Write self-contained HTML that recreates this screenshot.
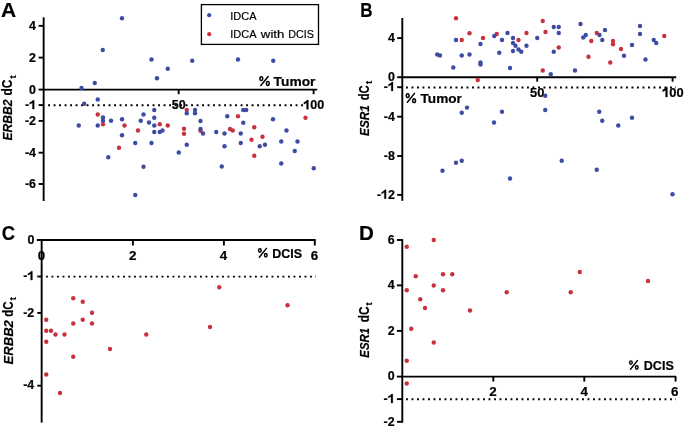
<!DOCTYPE html>
<html><head><meta charset="utf-8"><title>Figure</title>
<style>
html,body{margin:0;padding:0;background:#fff;}
body{width:685px;height:428px;overflow:hidden;}
svg{display:block;font-family:"Liberation Sans",sans-serif;filter:blur(0.3px);}
text{stroke:#000;stroke-width:0.2px;stroke-linejoin:round;}
</style></head>
<body>
<svg width="685" height="428" viewBox="0 0 685 428">
<rect width="685" height="428" fill="#fff"/>
<text transform="translate(0.9,16.8) scale(1.0,1)" font-size="21" font-weight="bold">A</text>
<line x1="43.65" y1="17.3" x2="43.65" y2="201.0" stroke="#000" stroke-width="1.9" />
<line x1="38.6" y1="25.85" x2="43.65" y2="25.85" stroke="#000" stroke-width="1.9" />
<text transform="translate(29.11,29.85) scale(1.0,1)" font-size="12.4" font-weight="bold">4</text>
<line x1="38.6" y1="57.6" x2="43.65" y2="57.6" stroke="#000" stroke-width="1.9" />
<text transform="translate(29.11,61.6) scale(1.0,1)" font-size="12.4" font-weight="bold">2</text>
<line x1="38.6" y1="89.6" x2="43.65" y2="89.6" stroke="#000" stroke-width="1.9" />
<text transform="translate(29.11,93.6) scale(1.0,1)" font-size="12.4" font-weight="bold">0</text>
<line x1="38.6" y1="105.1" x2="43.65" y2="105.1" stroke="#000" stroke-width="1.9" />
<text transform="translate(24.98,109.1) scale(1.0,1)" font-size="12.4" font-weight="bold">-</text>
<path transform="translate(29.11,109.1) scale(0.01240,-0.01240)" d="M410,0 L268,0 L268,513 C216,465 140,420 48,392 L48,527 C98,543 152,572 210,617 C266,661 302,696 318,716 L410,716 Z" fill="#000" stroke="#000" stroke-width="24.2" stroke-linejoin="round"/>
<line x1="38.6" y1="120.9" x2="43.65" y2="120.9" stroke="#000" stroke-width="1.9" />
<text transform="translate(24.98,124.9) scale(1.0,1)" font-size="12.4" font-weight="bold">-</text>
<text transform="translate(29.11,124.9) scale(1.0,1)" font-size="12.4" font-weight="bold">2</text>
<line x1="38.6" y1="152.7" x2="43.65" y2="152.7" stroke="#000" stroke-width="1.9" />
<text transform="translate(24.98,156.7) scale(1.0,1)" font-size="12.4" font-weight="bold">-</text>
<text transform="translate(29.11,156.7) scale(1.0,1)" font-size="12.4" font-weight="bold">4</text>
<line x1="38.6" y1="184.0" x2="43.65" y2="184.0" stroke="#000" stroke-width="1.9" />
<text transform="translate(24.98,188.0) scale(1.0,1)" font-size="12.4" font-weight="bold">-</text>
<text transform="translate(29.11,188.0) scale(1.0,1)" font-size="12.4" font-weight="bold">6</text>
<line x1="43.65" y1="89.65" x2="317.3" y2="89.65" stroke="#000" stroke-width="1.9" />
<line x1="178.65" y1="89.65" x2="178.65" y2="94.2" stroke="#000" stroke-width="1.9" />
<line x1="313.6" y1="89.65" x2="313.6" y2="94.2" stroke="#000" stroke-width="1.9" />
<line x1="48.1" y1="105.3" x2="306" y2="105.3" stroke="#000" stroke-width="1.9" stroke-dasharray="1.9 3.6"/>
<text transform="translate(171.73,109.2) scale(0.98,1)" font-size="12.8" font-weight="bold">5</text>
<text transform="translate(178.70,109.2) scale(0.98,1)" font-size="12.8" font-weight="bold">0</text>
<path transform="translate(303.24,109.2) scale(0.01254,-0.01280)" d="M410,0 L268,0 L268,513 C216,465 140,420 48,392 L48,527 C98,543 152,572 210,617 C266,661 302,696 318,716 L410,716 Z" fill="#000" stroke="#000" stroke-width="23.4" stroke-linejoin="round"/>
<text transform="translate(310.21,109.2) scale(0.98,1)" font-size="12.8" font-weight="bold">0</text>
<text transform="translate(317.19,109.2) scale(0.98,1)" font-size="12.8" font-weight="bold">0</text>
<ellipse cx="261.3" cy="78.6" rx="1.4" ry="1.95" fill="none" stroke="#000" stroke-width="1.5"/>
<ellipse cx="267.8" cy="83.5" rx="1.4" ry="1.95" fill="none" stroke="#000" stroke-width="1.5"/>
<line x1="260.8" y1="85.4" x2="268.2" y2="76.5" stroke="#000" stroke-width="1.5" stroke-linecap="round"/>
<text x="273.6" y="85.8" font-size="13.6" text-anchor="start" font-weight="bold" font-style="normal" textLength="41.8" lengthAdjust="spacingAndGlyphs">Tumor</text>
<text transform="translate(12.3,140.6) rotate(-90)" font-size="13.2" font-weight="bold" font-style="italic" textLength="41.10" lengthAdjust="spacingAndGlyphs">ERBB2</text>
<text transform="translate(12.3,95.5) rotate(-90)" font-size="14.2" font-weight="bold" textLength="15.80" lengthAdjust="spacingAndGlyphs">dC</text>
<text transform="translate(15.7,78.5) rotate(-90)" font-size="9.6" font-weight="bold">t</text>
<rect x="201.4" y="4.6" width="117.1" height="39.8" fill="none" stroke="#000" stroke-width="1.3"/>
<circle cx="209.2" cy="15.2" r="2.1" fill="#3d4ba3"/>
<circle cx="209.2" cy="34.2" r="2.1" fill="#c8313f"/>
<text x="230.2" y="19.8" font-size="11.6" text-anchor="start" font-weight="normal" font-style="normal" textLength="26.3" lengthAdjust="spacingAndGlyphs">IDCA</text>
<text x="230.2" y="37.8" font-size="11.6" text-anchor="start" font-weight="normal" font-style="normal" textLength="26.3" lengthAdjust="spacingAndGlyphs">IDCA</text>
<text x="260.8" y="37.8" font-size="11.6" text-anchor="start" font-weight="normal" font-style="normal" textLength="23.6" lengthAdjust="spacingAndGlyphs">with</text>
<text x="288.2" y="37.8" font-size="11.6" text-anchor="start" font-weight="normal" font-style="normal" textLength="25.6" lengthAdjust="spacingAndGlyphs">DCIS</text>
<text transform="translate(360.2,16.7) scale(0.81,1)" font-size="21" font-weight="bold">B</text>
<line x1="402.3" y1="18.0" x2="402.3" y2="200.8" stroke="#000" stroke-width="1.9" />
<line x1="397.2" y1="38.1" x2="402.3" y2="38.1" stroke="#000" stroke-width="1.9" />
<text transform="translate(387.91,41.9) scale(1.0,1)" font-size="12.4" font-weight="bold">4</text>
<line x1="397.2" y1="77.2" x2="402.3" y2="77.2" stroke="#000" stroke-width="1.9" />
<text transform="translate(387.91,81.0) scale(1.0,1)" font-size="12.4" font-weight="bold">0</text>
<line x1="397.2" y1="87.2" x2="402.3" y2="87.2" stroke="#000" stroke-width="1.9" />
<text transform="translate(383.78,91.0) scale(1.0,1)" font-size="12.4" font-weight="bold">-</text>
<path transform="translate(387.91,91.0) scale(0.01240,-0.01240)" d="M410,0 L268,0 L268,513 C216,465 140,420 48,392 L48,527 C98,543 152,572 210,617 C266,661 302,696 318,716 L410,716 Z" fill="#000" stroke="#000" stroke-width="24.2" stroke-linejoin="round"/>
<line x1="397.2" y1="116.7" x2="402.3" y2="116.7" stroke="#000" stroke-width="1.9" />
<text transform="translate(383.78,120.5) scale(1.0,1)" font-size="12.4" font-weight="bold">-</text>
<text transform="translate(387.91,120.5) scale(1.0,1)" font-size="12.4" font-weight="bold">4</text>
<line x1="397.2" y1="156.0" x2="402.3" y2="156.0" stroke="#000" stroke-width="1.9" />
<text transform="translate(383.78,159.8) scale(1.0,1)" font-size="12.4" font-weight="bold">-</text>
<text transform="translate(387.91,159.8) scale(1.0,1)" font-size="12.4" font-weight="bold">8</text>
<line x1="397.2" y1="194.9" x2="402.3" y2="194.9" stroke="#000" stroke-width="1.9" />
<text transform="translate(376.88,198.70000000000002) scale(1.0,1)" font-size="12.4" font-weight="bold">-</text>
<path transform="translate(381.01,198.70000000000002) scale(0.01240,-0.01240)" d="M410,0 L268,0 L268,513 C216,465 140,420 48,392 L48,527 C98,543 152,572 210,617 C266,661 302,696 318,716 L410,716 Z" fill="#000" stroke="#000" stroke-width="24.2" stroke-linejoin="round"/>
<text transform="translate(387.91,198.70000000000002) scale(1.0,1)" font-size="12.4" font-weight="bold">2</text>
<line x1="402.3" y1="77.2" x2="676.2" y2="77.2" stroke="#000" stroke-width="1.9" />
<line x1="537.2" y1="77.2" x2="537.2" y2="81.7" stroke="#000" stroke-width="1.9" />
<line x1="672.6" y1="77.2" x2="672.6" y2="81.7" stroke="#000" stroke-width="1.9" />
<line x1="406.0" y1="87.5" x2="676" y2="87.5" stroke="#000" stroke-width="1.9" stroke-dasharray="1.9 3.6"/>
<text transform="translate(530.12,97.0) scale(0.95,1)" font-size="13.6" font-weight="bold">5</text>
<text transform="translate(537.30,97.0) scale(0.95,1)" font-size="13.6" font-weight="bold">0</text>
<path transform="translate(662.12,97.0) scale(0.01292,-0.01360)" d="M410,0 L268,0 L268,513 C216,465 140,420 48,392 L48,527 C98,543 152,572 210,617 C266,661 302,696 318,716 L410,716 Z" fill="#000" stroke="#000" stroke-width="22.1" stroke-linejoin="round"/>
<text transform="translate(669.31,97.0) scale(0.95,1)" font-size="13.6" font-weight="bold">0</text>
<text transform="translate(676.49,97.0) scale(0.95,1)" font-size="13.6" font-weight="bold">0</text>
<ellipse cx="407.7" cy="95.6" rx="1.4" ry="1.95" fill="none" stroke="#000" stroke-width="1.5"/>
<ellipse cx="414.1" cy="100.65" rx="1.4" ry="1.95" fill="none" stroke="#000" stroke-width="1.5"/>
<line x1="407.4" y1="102.3" x2="414.5" y2="93.4" stroke="#000" stroke-width="1.5" stroke-linecap="round"/>
<text x="420.5" y="102.8" font-size="13.6" text-anchor="start" font-weight="bold" font-style="normal" textLength="41.4" lengthAdjust="spacingAndGlyphs">Tumor</text>
<text transform="translate(369.0,136.0) rotate(-90)" font-size="13.2" font-weight="bold" font-style="italic" textLength="30.90" lengthAdjust="spacingAndGlyphs">ESR1</text>
<text transform="translate(369.0,100.3) rotate(-90)" font-size="14.2" font-weight="bold" textLength="15.10" lengthAdjust="spacingAndGlyphs">dC</text>
<text transform="translate(372.1,84.0) rotate(-90)" font-size="9.6" font-weight="bold">t</text>
<text transform="translate(1.7,239.8) scale(0.88,1)" font-size="21" font-weight="bold">C</text>
<line x1="36.8" y1="240.0" x2="315.7" y2="240.0" stroke="#000" stroke-width="1.9" />
<line x1="41.65" y1="240.0" x2="41.65" y2="422.6" stroke="#000" stroke-width="1.9" />
<line x1="37.3" y1="276.5" x2="41.65" y2="276.5" stroke="#000" stroke-width="1.9" />
<text transform="translate(23.18,280.1) scale(1.0,1)" font-size="12.4" font-weight="bold">-</text>
<path transform="translate(27.31,280.1) scale(0.01240,-0.01240)" d="M410,0 L268,0 L268,513 C216,465 140,420 48,392 L48,527 C98,543 152,572 210,617 C266,661 302,696 318,716 L410,716 Z" fill="#000" stroke="#000" stroke-width="24.2" stroke-linejoin="round"/>
<line x1="37.3" y1="312.9" x2="41.65" y2="312.9" stroke="#000" stroke-width="1.9" />
<text transform="translate(23.18,316.5) scale(1.0,1)" font-size="12.4" font-weight="bold">-</text>
<text transform="translate(27.31,316.5) scale(1.0,1)" font-size="12.4" font-weight="bold">2</text>
<line x1="37.3" y1="385.7" x2="41.65" y2="385.7" stroke="#000" stroke-width="1.9" />
<text transform="translate(23.18,389.3) scale(1.0,1)" font-size="12.4" font-weight="bold">-</text>
<text transform="translate(27.31,389.3) scale(1.0,1)" font-size="12.4" font-weight="bold">4</text>
<text x="34.4" y="244.3" font-size="12.5" text-anchor="end" font-weight="bold" font-style="normal" >0</text>
<line x1="132.9" y1="240.0" x2="132.9" y2="245.5" stroke="#000" stroke-width="1.9" />
<line x1="223.9" y1="240.0" x2="223.9" y2="245.5" stroke="#000" stroke-width="1.9" />
<line x1="314.8" y1="240.0" x2="314.8" y2="245.5" stroke="#000" stroke-width="1.9" />
<text x="41.5" y="259.5" font-size="13.4" text-anchor="middle" font-weight="bold" font-style="normal" >0</text>
<text x="132.8" y="259.5" font-size="13.4" text-anchor="middle" font-weight="bold" font-style="normal" >2</text>
<text x="223.6" y="259.5" font-size="13.4" text-anchor="middle" font-weight="bold" font-style="normal" >4</text>
<text x="314.4" y="259.5" font-size="13.4" text-anchor="middle" font-weight="bold" font-style="normal" >6</text>
<ellipse cx="259.9" cy="250.4" rx="1.3" ry="1.75" fill="none" stroke="#000" stroke-width="1.45"/>
<ellipse cx="265.8" cy="255.3" rx="1.3" ry="1.75" fill="none" stroke="#000" stroke-width="1.45"/>
<line x1="259.3" y1="257.3" x2="266.4" y2="248.4" stroke="#000" stroke-width="1.45" stroke-linecap="round"/>
<text x="272.2" y="257.9" font-size="13.6" text-anchor="start" font-weight="bold" font-style="normal" textLength="29.8" lengthAdjust="spacingAndGlyphs">DCIS</text>
<line x1="46.0" y1="276.6" x2="316" y2="276.6" stroke="#000" stroke-width="1.9" stroke-dasharray="1.9 3.6"/>
<text transform="translate(12.9,364.5) rotate(-90)" font-size="13.2" font-weight="bold" font-style="italic" textLength="44.40" lengthAdjust="spacingAndGlyphs">ERBB2</text>
<text transform="translate(12.9,316.8) rotate(-90)" font-size="14.2" font-weight="bold" textLength="15.20" lengthAdjust="spacingAndGlyphs">dC</text>
<text transform="translate(15.9,300.3) rotate(-90)" font-size="9.6" font-weight="bold">t</text>
<text transform="translate(359.0,239.6) scale(0.98,1)" font-size="21" font-weight="bold">D</text>
<line x1="402.3" y1="239.2" x2="402.3" y2="422.6" stroke="#000" stroke-width="1.9" />
<line x1="396.9" y1="240.0" x2="402.3" y2="240.0" stroke="#000" stroke-width="1.9" />
<text transform="translate(387.71,243.8) scale(1.0,1)" font-size="12.4" font-weight="bold">6</text>
<line x1="396.9" y1="285.4" x2="402.3" y2="285.4" stroke="#000" stroke-width="1.9" />
<text transform="translate(387.71,289.2) scale(1.0,1)" font-size="12.4" font-weight="bold">4</text>
<line x1="396.9" y1="330.9" x2="402.3" y2="330.9" stroke="#000" stroke-width="1.9" />
<text transform="translate(387.71,334.7) scale(1.0,1)" font-size="12.4" font-weight="bold">2</text>
<line x1="396.9" y1="376.6" x2="402.3" y2="376.6" stroke="#000" stroke-width="1.9" />
<text transform="translate(387.71,380.40000000000003) scale(1.0,1)" font-size="12.4" font-weight="bold">0</text>
<line x1="396.9" y1="399.1" x2="402.3" y2="399.1" stroke="#000" stroke-width="1.9" />
<text transform="translate(383.58,402.90000000000003) scale(1.0,1)" font-size="12.4" font-weight="bold">-</text>
<path transform="translate(387.71,402.90000000000003) scale(0.01240,-0.01240)" d="M410,0 L268,0 L268,513 C216,465 140,420 48,392 L48,527 C98,543 152,572 210,617 C266,661 302,696 318,716 L410,716 Z" fill="#000" stroke="#000" stroke-width="24.2" stroke-linejoin="round"/>
<line x1="396.9" y1="421.8" x2="402.3" y2="421.8" stroke="#000" stroke-width="1.9" />
<text transform="translate(383.58,425.6) scale(1.0,1)" font-size="12.4" font-weight="bold">-</text>
<text transform="translate(387.71,425.6) scale(1.0,1)" font-size="12.4" font-weight="bold">2</text>
<line x1="402.3" y1="376.6" x2="676.2" y2="376.6" stroke="#000" stroke-width="1.9" />
<line x1="493.3" y1="376.6" x2="493.3" y2="381.6" stroke="#000" stroke-width="1.9" />
<line x1="584.3" y1="376.6" x2="584.3" y2="381.6" stroke="#000" stroke-width="1.9" />
<line x1="675.6" y1="376.6" x2="675.6" y2="381.6" stroke="#000" stroke-width="1.9" />
<text x="493.0" y="396.4" font-size="13.4" text-anchor="middle" font-weight="bold" font-style="normal" >2</text>
<text x="584.3" y="396.4" font-size="13.4" text-anchor="middle" font-weight="bold" font-style="normal" >4</text>
<text x="674.8" y="396.4" font-size="13.4" text-anchor="middle" font-weight="bold" font-style="normal" >6</text>
<ellipse cx="630.9" cy="362.6" rx="1.3" ry="1.75" fill="none" stroke="#000" stroke-width="1.45"/>
<ellipse cx="636.8" cy="367.5" rx="1.3" ry="1.75" fill="none" stroke="#000" stroke-width="1.45"/>
<line x1="630.5" y1="369.3" x2="637.4" y2="360.6" stroke="#000" stroke-width="1.45" stroke-linecap="round"/>
<text x="643.8" y="369.8" font-size="13.6" text-anchor="start" font-weight="bold" font-style="normal" textLength="30.0" lengthAdjust="spacingAndGlyphs">DCIS</text>
<line x1="406.0" y1="399.2" x2="676" y2="399.2" stroke="#000" stroke-width="1.9" stroke-dasharray="1.9 3.6"/>
<text transform="translate(369.0,357.7) rotate(-90)" font-size="13.2" font-weight="bold" font-style="italic" textLength="29.90" lengthAdjust="spacingAndGlyphs">ESR1</text>
<text transform="translate(369.0,322.3) rotate(-90)" font-size="14.2" font-weight="bold" textLength="15.70" lengthAdjust="spacingAndGlyphs">dC</text>
<text transform="translate(372.3,305.5) rotate(-90)" font-size="9.6" font-weight="bold">t</text>
<circle cx="97.75" cy="114.5" r="2.2" fill="#c8313f"/>
<circle cx="103" cy="124.25" r="2.2" fill="#c8313f"/>
<circle cx="124.5" cy="125.5" r="2.2" fill="#c8313f"/>
<circle cx="159.75" cy="124.25" r="2.2" fill="#c8313f"/>
<circle cx="167.75" cy="125.5" r="2.2" fill="#c8313f"/>
<circle cx="138" cy="130.5" r="2.2" fill="#c8313f"/>
<circle cx="119" cy="147.75" r="2.2" fill="#c8313f"/>
<circle cx="186.75" cy="110" r="2.2" fill="#c8313f"/>
<circle cx="200.5" cy="130.75" r="2.2" fill="#c8313f"/>
<circle cx="184" cy="128.75" r="2.2" fill="#c8313f"/>
<circle cx="184" cy="133.75" r="2.2" fill="#c8313f"/>
<circle cx="230" cy="129" r="2.2" fill="#c8313f"/>
<circle cx="232.75" cy="130.5" r="2.2" fill="#c8313f"/>
<circle cx="238" cy="116.25" r="2.2" fill="#c8313f"/>
<circle cx="254.25" cy="127.25" r="2.2" fill="#c8313f"/>
<circle cx="251.5" cy="139.75" r="2.2" fill="#c8313f"/>
<circle cx="262.5" cy="136.75" r="2.2" fill="#c8313f"/>
<circle cx="254.25" cy="155.75" r="2.2" fill="#c8313f"/>
<circle cx="305.5" cy="117.75" r="2.2" fill="#c8313f"/>
<circle cx="122" cy="18.2" r="2.2" fill="#3d4ba3"/>
<circle cx="102.75" cy="50" r="2.2" fill="#3d4ba3"/>
<circle cx="151.5" cy="59.5" r="2.2" fill="#3d4ba3"/>
<circle cx="167.75" cy="68.75" r="2.2" fill="#3d4ba3"/>
<circle cx="157" cy="78.25" r="2.2" fill="#3d4ba3"/>
<circle cx="94.75" cy="83" r="2.2" fill="#3d4ba3"/>
<circle cx="81.5" cy="88" r="2.2" fill="#3d4ba3"/>
<circle cx="97.75" cy="99.5" r="2.2" fill="#3d4ba3"/>
<circle cx="84.25" cy="103.75" r="2.2" fill="#3d4ba3"/>
<circle cx="192.25" cy="60.75" r="2.2" fill="#3d4ba3"/>
<circle cx="238" cy="59.5" r="2.2" fill="#3d4ba3"/>
<circle cx="273.25" cy="60.75" r="2.2" fill="#3d4ba3"/>
<circle cx="103" cy="117.5" r="2.2" fill="#3d4ba3"/>
<circle cx="103" cy="120.75" r="2.2" fill="#3d4ba3"/>
<circle cx="111" cy="120.75" r="2.2" fill="#3d4ba3"/>
<circle cx="78.75" cy="125.5" r="2.2" fill="#3d4ba3"/>
<circle cx="97.75" cy="125.5" r="2.2" fill="#3d4ba3"/>
<circle cx="122" cy="119.25" r="2.2" fill="#3d4ba3"/>
<circle cx="122" cy="135.25" r="2.2" fill="#3d4ba3"/>
<circle cx="143.5" cy="114.5" r="2.2" fill="#3d4ba3"/>
<circle cx="154.25" cy="110" r="2.2" fill="#3d4ba3"/>
<circle cx="154.25" cy="117.75" r="2.2" fill="#3d4ba3"/>
<circle cx="140.75" cy="120.75" r="2.2" fill="#3d4ba3"/>
<circle cx="149" cy="122.5" r="2.2" fill="#3d4ba3"/>
<circle cx="154.25" cy="125.5" r="2.2" fill="#3d4ba3"/>
<circle cx="154.25" cy="132" r="2.2" fill="#3d4ba3"/>
<circle cx="159.75" cy="132" r="2.2" fill="#3d4ba3"/>
<circle cx="162.5" cy="130.5" r="2.2" fill="#3d4ba3"/>
<circle cx="135.25" cy="143" r="2.2" fill="#3d4ba3"/>
<circle cx="151.5" cy="143" r="2.2" fill="#3d4ba3"/>
<circle cx="108.25" cy="157.25" r="2.2" fill="#3d4ba3"/>
<circle cx="143.5" cy="166.75" r="2.2" fill="#3d4ba3"/>
<circle cx="135.25" cy="195" r="2.2" fill="#3d4ba3"/>
<circle cx="186.75" cy="113.25" r="2.2" fill="#3d4ba3"/>
<circle cx="195" cy="110" r="2.2" fill="#3d4ba3"/>
<circle cx="195" cy="113.25" r="2.2" fill="#3d4ba3"/>
<circle cx="200.5" cy="121" r="2.2" fill="#3d4ba3"/>
<circle cx="200.5" cy="129" r="2.2" fill="#3d4ba3"/>
<circle cx="203" cy="133.5" r="2.2" fill="#3d4ba3"/>
<circle cx="186.75" cy="144.75" r="2.2" fill="#3d4ba3"/>
<circle cx="178.75" cy="152.5" r="2.2" fill="#3d4ba3"/>
<circle cx="216.25" cy="132" r="2.2" fill="#3d4ba3"/>
<circle cx="224.5" cy="133.5" r="2.2" fill="#3d4ba3"/>
<circle cx="224.5" cy="146.25" r="2.2" fill="#3d4ba3"/>
<circle cx="227.25" cy="116.25" r="2.2" fill="#3d4ba3"/>
<circle cx="243.25" cy="110" r="2.2" fill="#3d4ba3"/>
<circle cx="246.25" cy="110" r="2.2" fill="#3d4ba3"/>
<circle cx="243.25" cy="122.75" r="2.2" fill="#3d4ba3"/>
<circle cx="240.75" cy="133.5" r="2.2" fill="#3d4ba3"/>
<circle cx="240.75" cy="143" r="2.2" fill="#3d4ba3"/>
<circle cx="259.75" cy="146.25" r="2.2" fill="#3d4ba3"/>
<circle cx="265" cy="144.75" r="2.2" fill="#3d4ba3"/>
<circle cx="273" cy="119.25" r="2.2" fill="#3d4ba3"/>
<circle cx="221.75" cy="166.5" r="2.2" fill="#3d4ba3"/>
<circle cx="281.25" cy="141.5" r="2.2" fill="#3d4ba3"/>
<circle cx="286.5" cy="130.5" r="2.2" fill="#3d4ba3"/>
<circle cx="297.5" cy="141.5" r="2.2" fill="#3d4ba3"/>
<circle cx="294.75" cy="151" r="2.2" fill="#3d4ba3"/>
<circle cx="281.25" cy="163.5" r="2.2" fill="#3d4ba3"/>
<circle cx="313.75" cy="168.25" r="2.2" fill="#3d4ba3"/>
<circle cx="456" cy="18.25" r="2.2" fill="#c8313f"/>
<circle cx="461.75" cy="40" r="2.2" fill="#c8313f"/>
<circle cx="469.5" cy="33.25" r="2.2" fill="#c8313f"/>
<circle cx="483" cy="38" r="2.2" fill="#c8313f"/>
<circle cx="496.75" cy="34" r="2.2" fill="#c8313f"/>
<circle cx="477.75" cy="80" r="2.2" fill="#c8313f"/>
<circle cx="518.5" cy="40" r="2.2" fill="#c8313f"/>
<circle cx="526.5" cy="33" r="2.2" fill="#c8313f"/>
<circle cx="542.75" cy="21" r="2.2" fill="#c8313f"/>
<circle cx="545.5" cy="32" r="2.2" fill="#c8313f"/>
<circle cx="558.75" cy="47.5" r="2.2" fill="#c8313f"/>
<circle cx="542.75" cy="70.5" r="2.2" fill="#c8313f"/>
<circle cx="591.25" cy="41" r="2.2" fill="#c8313f"/>
<circle cx="588.5" cy="56.75" r="2.2" fill="#c8313f"/>
<circle cx="596.75" cy="33" r="2.2" fill="#c8313f"/>
<circle cx="613" cy="41" r="2.2" fill="#c8313f"/>
<circle cx="613" cy="44.25" r="2.2" fill="#c8313f"/>
<circle cx="610.25" cy="62.5" r="2.2" fill="#c8313f"/>
<circle cx="621" cy="49" r="2.2" fill="#c8313f"/>
<circle cx="664.25" cy="36" r="2.2" fill="#c8313f"/>
<circle cx="456" cy="40" r="2.2" fill="#3d4ba3"/>
<circle cx="494.25" cy="36" r="2.2" fill="#3d4ba3"/>
<circle cx="507.5" cy="33" r="2.2" fill="#3d4ba3"/>
<circle cx="502" cy="40" r="2.2" fill="#3d4ba3"/>
<circle cx="480.5" cy="44" r="2.2" fill="#3d4ba3"/>
<circle cx="437.25" cy="54.5" r="2.2" fill="#3d4ba3"/>
<circle cx="440" cy="55.5" r="2.2" fill="#3d4ba3"/>
<circle cx="461.75" cy="55.5" r="2.2" fill="#3d4ba3"/>
<circle cx="469.5" cy="54.5" r="2.2" fill="#3d4ba3"/>
<circle cx="499.25" cy="52.75" r="2.2" fill="#3d4ba3"/>
<circle cx="480.5" cy="62.5" r="2.2" fill="#3d4ba3"/>
<circle cx="480.5" cy="64.5" r="2.2" fill="#3d4ba3"/>
<circle cx="453.25" cy="67.5" r="2.2" fill="#3d4ba3"/>
<circle cx="510" cy="68" r="2.2" fill="#3d4ba3"/>
<circle cx="467" cy="107.6" r="2.2" fill="#3d4ba3"/>
<circle cx="461.75" cy="112.75" r="2.2" fill="#3d4ba3"/>
<circle cx="502" cy="111.75" r="2.2" fill="#3d4ba3"/>
<circle cx="494" cy="122.5" r="2.2" fill="#3d4ba3"/>
<circle cx="461.75" cy="160.75" r="2.2" fill="#3d4ba3"/>
<circle cx="456" cy="162.75" r="2.2" fill="#3d4ba3"/>
<circle cx="442.5" cy="170.75" r="2.2" fill="#3d4ba3"/>
<circle cx="510" cy="178.5" r="2.2" fill="#3d4ba3"/>
<circle cx="513" cy="38" r="2.2" fill="#3d4ba3"/>
<circle cx="513" cy="43" r="2.2" fill="#3d4ba3"/>
<circle cx="515.5" cy="45.75" r="2.2" fill="#3d4ba3"/>
<circle cx="513" cy="51" r="2.2" fill="#3d4ba3"/>
<circle cx="518.5" cy="49.5" r="2.2" fill="#3d4ba3"/>
<circle cx="521.25" cy="51.75" r="2.2" fill="#3d4ba3"/>
<circle cx="526.5" cy="45.75" r="2.2" fill="#3d4ba3"/>
<circle cx="537.25" cy="38" r="2.2" fill="#3d4ba3"/>
<circle cx="553.75" cy="27" r="2.2" fill="#3d4ba3"/>
<circle cx="558.75" cy="27" r="2.2" fill="#3d4ba3"/>
<circle cx="558.75" cy="33" r="2.2" fill="#3d4ba3"/>
<circle cx="553.75" cy="51.75" r="2.2" fill="#3d4ba3"/>
<circle cx="550.75" cy="74.25" r="2.2" fill="#3d4ba3"/>
<circle cx="545.25" cy="95.75" r="2.2" fill="#3d4ba3"/>
<circle cx="575" cy="70.5" r="2.2" fill="#3d4ba3"/>
<circle cx="580.5" cy="24" r="2.2" fill="#3d4ba3"/>
<circle cx="583.25" cy="37.5" r="2.2" fill="#3d4ba3"/>
<circle cx="585.75" cy="35" r="2.2" fill="#3d4ba3"/>
<circle cx="599.5" cy="35" r="2.2" fill="#3d4ba3"/>
<circle cx="602.25" cy="40" r="2.2" fill="#3d4ba3"/>
<circle cx="605" cy="30" r="2.2" fill="#3d4ba3"/>
<circle cx="624" cy="55.75" r="2.2" fill="#3d4ba3"/>
<circle cx="632" cy="45" r="2.2" fill="#3d4ba3"/>
<circle cx="640" cy="26" r="2.2" fill="#3d4ba3"/>
<circle cx="640" cy="34" r="2.2" fill="#3d4ba3"/>
<circle cx="645.5" cy="59.5" r="2.2" fill="#3d4ba3"/>
<circle cx="653.75" cy="40" r="2.2" fill="#3d4ba3"/>
<circle cx="656.25" cy="43" r="2.2" fill="#3d4ba3"/>
<circle cx="545.25" cy="110" r="2.2" fill="#3d4ba3"/>
<circle cx="599.25" cy="111.75" r="2.2" fill="#3d4ba3"/>
<circle cx="602.25" cy="120.75" r="2.2" fill="#3d4ba3"/>
<circle cx="618.25" cy="125.5" r="2.2" fill="#3d4ba3"/>
<circle cx="632" cy="117.75" r="2.2" fill="#3d4ba3"/>
<circle cx="561.75" cy="160.75" r="2.2" fill="#3d4ba3"/>
<circle cx="596.75" cy="169.75" r="2.2" fill="#3d4ba3"/>
<circle cx="672.5" cy="194.25" r="2.2" fill="#3d4ba3"/>
<circle cx="73.25" cy="298.25" r="2.2" fill="#c8313f"/>
<circle cx="82.75" cy="301.75" r="2.2" fill="#c8313f"/>
<circle cx="92" cy="312.75" r="2.2" fill="#c8313f"/>
<circle cx="46.25" cy="319.75" r="2.2" fill="#c8313f"/>
<circle cx="82.75" cy="319.75" r="2.2" fill="#c8313f"/>
<circle cx="46.25" cy="330.75" r="2.2" fill="#c8313f"/>
<circle cx="51.0" cy="330.75" r="2.2" fill="#c8313f"/>
<circle cx="55.5" cy="334.5" r="2.2" fill="#c8313f"/>
<circle cx="64.5" cy="334.5" r="2.2" fill="#c8313f"/>
<circle cx="46.25" cy="341.75" r="2.2" fill="#c8313f"/>
<circle cx="73.25" cy="323.5" r="2.2" fill="#c8313f"/>
<circle cx="92" cy="323.5" r="2.2" fill="#c8313f"/>
<circle cx="73.25" cy="356.75" r="2.2" fill="#c8313f"/>
<circle cx="110" cy="349" r="2.2" fill="#c8313f"/>
<circle cx="146.25" cy="334.5" r="2.2" fill="#c8313f"/>
<circle cx="46.25" cy="374.5" r="2.2" fill="#c8313f"/>
<circle cx="60" cy="393" r="2.2" fill="#c8313f"/>
<circle cx="219.25" cy="287.25" r="2.2" fill="#c8313f"/>
<circle cx="287.5" cy="305.25" r="2.2" fill="#c8313f"/>
<circle cx="210" cy="327" r="2.2" fill="#c8313f"/>
<circle cx="433.75" cy="240" r="2.2" fill="#c8313f"/>
<circle cx="406.75" cy="246.75" r="2.2" fill="#c8313f"/>
<circle cx="415.75" cy="276.25" r="2.2" fill="#c8313f"/>
<circle cx="443" cy="274.25" r="2.2" fill="#c8313f"/>
<circle cx="452.25" cy="274.25" r="2.2" fill="#c8313f"/>
<circle cx="433.75" cy="285.5" r="2.2" fill="#c8313f"/>
<circle cx="406.75" cy="290.25" r="2.2" fill="#c8313f"/>
<circle cx="443" cy="290.25" r="2.2" fill="#c8313f"/>
<circle cx="420.25" cy="299.25" r="2.2" fill="#c8313f"/>
<circle cx="425" cy="308" r="2.2" fill="#c8313f"/>
<circle cx="470" cy="310.5" r="2.2" fill="#c8313f"/>
<circle cx="506.75" cy="292.25" r="2.2" fill="#c8313f"/>
<circle cx="579.75" cy="272" r="2.2" fill="#c8313f"/>
<circle cx="570.75" cy="292.25" r="2.2" fill="#c8313f"/>
<circle cx="648" cy="281" r="2.2" fill="#c8313f"/>
<circle cx="411.25" cy="328.75" r="2.2" fill="#c8313f"/>
<circle cx="433.75" cy="342.5" r="2.2" fill="#c8313f"/>
<circle cx="406.75" cy="360.75" r="2.2" fill="#c8313f"/>
<circle cx="406.75" cy="383.5" r="2.2" fill="#c8313f"/>
</svg>
</body></html>
